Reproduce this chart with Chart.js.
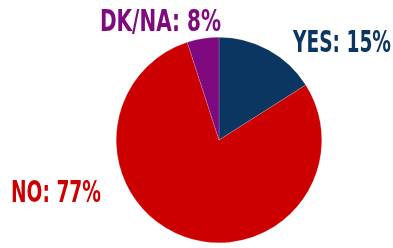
<!DOCTYPE html>
<html>
<head>
<meta charset="utf-8">
<script src="https://cdn.jsdelivr.net/npm/chart.js@4/dist/chart.umd.min.js"></script>
<style>
  html, body { margin: 0; padding: 0; background: #fff; }
  #wrap { width: 393px; height: 248px; }
</style>
</head>
<body>
<div id="wrap"><canvas id="pie"></canvas></div>
<script>
// slice sizes as drawn, label texts as printed
const categories = ['YES', 'NO', 'DK/NA'];
const sliceValues = [16, 79, 5];
const labelPercents = ['15%', '77%', '8%'];
const sliceColors = ['#0b3661', '#cc0000', '#7f0a80'];

// label placement: left x, baseline y, width to squeeze into
const labelSpots = [[293, 52, 98], [11, 202, 90], [100, 31, 121]];

const labelPlugin = {
    id: 'sliceLabels',
    afterDraw(chart) {
        const ctx = chart.ctx;
        ctx.save();
        ctx.font = 'bold 30px "DejaVu Sans Condensed", "Liberation Sans Narrow", sans-serif';
        ctx.textBaseline = 'alphabetic';
        ctx.textAlign = 'left';
        categories.forEach((cat, i) => {
            const text = cat + ': ' + labelPercents[i];
            const [x, y, w] = labelSpots[i];
            const sx = w / ctx.measureText(text).width;
            ctx.save();
            ctx.translate(x, y);
            ctx.scale(sx, 1);
            ctx.fillStyle = sliceColors[i];
            ctx.fillText(text, 0, 0);
            ctx.restore();
        });
        ctx.restore();
    }
};

new Chart(document.getElementById('pie'), {
    type: 'pie',
    data: {
        labels: categories,
        datasets: [{
            data: sliceValues,
            backgroundColor: sliceColors,
            borderColor: 'rgba(255,255,255,0.35)',
            borderWidth: 0.5
        }]
    },
    options: {
        responsive: true,
        maintainAspectRatio: false,
        animation: false,
        layout: { padding: { left: 116, right: 71, top: 37, bottom: 5 } },
        plugins: {
            legend: { display: false },
            tooltip: { enabled: false }
        }
    },
    plugins: [labelPlugin]
});
</script>
</body>
</html>
